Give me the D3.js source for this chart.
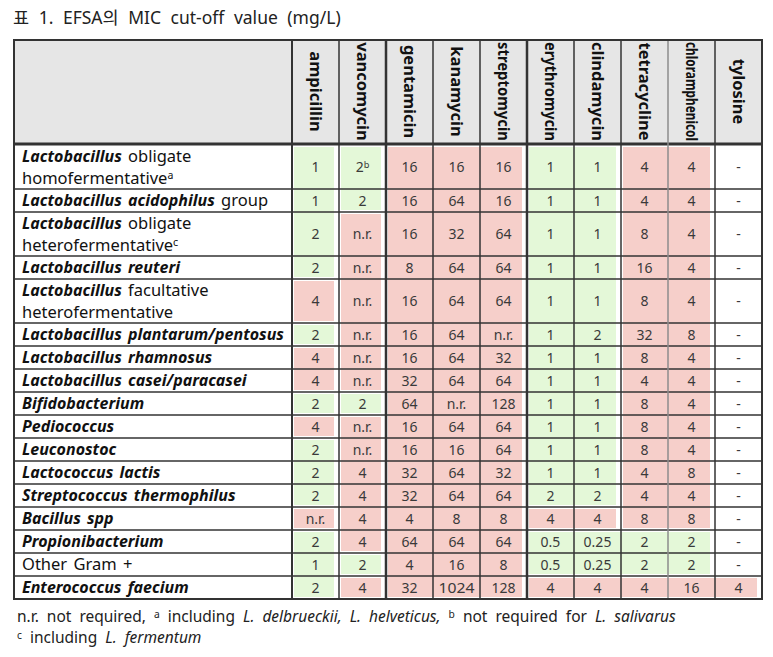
<!doctype html>
<html lang="ko">
<head>
<meta charset="UTF-8" />
<title>EFSA MIC cut-off value</title>
<script src="https://d3js.org/d3.v7.min.js"></script>
<style>
  body { margin: 0; background: #fff; }
  svg text { font-family: "Noto Sans", "DejaVu Sans", "Noto Sans CJK KR", sans-serif; }
</style>
</head>
<body>
<div id="table-container"></div>
<script>
// drug columns
var drugs = ['ampicillin', 'vancomycin', 'gentamicin', 'kanamycin', 'streptomycin',
    'erythromycin', 'clindamycin', 'tetracycline', 'chloramphenicol', 'tylosine'];

// row labels: *..* = bold italic, ^x = superscript, | = line break
var species = [
    '*Lactobacillus* obligate|homofermentative^a',
    '*Lactobacillus acidophilus* group',
    '*Lactobacillus* obligate|heterofermentative^c',
    '*Lactobacillus reuteri*',
    '*Lactobacillus* facultative|heterofermentative',
    '*Lactobacillus plantarum/pentosus*',
    '*Lactobacillus rhamnosus*',
    '*Lactobacillus casei/paracasei*',
    '*Bifidobacterium*',
    '*Pediococcus*',
    '*Leuconostoc*',
    '*Lactococcus lactis*',
    '*Streptococcus thermophilus*',
    '*Bacillus spp*',
    '*Propionibacterium*',
    'Other Gram +',
    '*Enterococcus faecium*'
];

// MIC values per drug, top row to bottom row
var ampicillin      = ['1', '1', '2', '2', '4', '2', '4', '4', '2', '4', '2', '2', '2', 'n.r.', '2', '1', '2'];
var vancomycin      = ['2^b', '2', 'n.r.', 'n.r.', 'n.r.', 'n.r.', 'n.r.', 'n.r.', '2', 'n.r.', 'n.r.', '4', '4', '4', '4', '2', '4'];
var gentamicin      = ['16', '16', '16', '8', '16', '16', '16', '32', '64', '16', '16', '32', '32', '4', '64', '4', '32'];
var kanamycin       = ['16', '64', '32', '64', '64', '64', '64', '64', 'n.r.', '64', '16', '64', '64', '8', '64', '16', '1024'];
var streptomycin    = ['16', '16', '64', '64', '64', 'n.r.', '32', '64', '128', '64', '64', '32', '64', '8', '64', '8', '128'];
var erythromycin    = ['1', '1', '1', '1', '1', '1', '1', '1', '1', '1', '1', '1', '2', '4', '0.5', '0.5', '4'];
var clindamycin     = ['1', '1', '1', '1', '1', '2', '1', '1', '1', '1', '1', '1', '2', '4', '0.25', '0.25', '4'];
var tetracycline    = ['4', '4', '8', '16', '8', '32', '8', '4', '8', '8', '8', '4', '4', '8', '2', '2', '4'];
var chloramphenicol = ['4', '4', '4', '4', '4', '8', '4', '4', '4', '4', '4', '8', '4', '8', '2', '2', '16'];
var tylosine        = ['-', '-', '-', '-', '-', '-', '-', '-', '-', '-', '-', '-', '-', '-', '-', '-', '4'];

var values = [ampicillin, vancomycin, gentamicin, kanamycin, streptomycin,
    erythromycin, clindamycin, tetracycline, chloramphenicol, tylosine];

// highlighted blocks: [first col, last col, first row, last row, kind]
var highlights = [
    [0, 0, 0, 3, 'ok'], [0, 0, 4, 4, 'hi'], [0, 0, 5, 5, 'ok'], [0, 0, 6, 7, 'hi'],
    [0, 0, 8, 8, 'ok'], [0, 0, 9, 9, 'hi'], [0, 0, 10, 12, 'ok'], [0, 0, 13, 13, 'hi'],
    [0, 0, 14, 16, 'ok'],
    [1, 1, 0, 1, 'ok'], [1, 1, 2, 7, 'hi'], [1, 1, 8, 8, 'ok'], [1, 1, 9, 14, 'hi'],
    [1, 1, 15, 15, 'ok'], [1, 1, 16, 16, 'hi'],
    [2, 4, 0, 16, 'hi'],
    [5, 6, 0, 12, 'ok'], [5, 6, 13, 13, 'hi'], [5, 8, 14, 15, 'ok'], [5, 9, 16, 16, 'hi'],
    [7, 8, 0, 13, 'hi']
];

var title = '표 1. EFSA의 MIC cut-off value (mg/L)';
var footnotes = [
    'n.r. not required, ^a including _L. delbrueckii, L. helveticus,_  ^b not required for _L. salivarus_',
    '^c including _L. fermentum_'
];

var width = 773, height = 657;
var left = 14, right = 762, labelRight = 292;
var headTop = 40, headBottom = 145;
var fill = { ok: '#e4f8d8', hi: '#f6cfca' };

var svg = d3.select('#table-container')
    .append('svg')
    .attr('width', width)
    .attr('height', height);

var x = d3.scaleBand()
    .domain(d3.range(drugs.length))
    .range([labelRight, right]);

// row tops from line counts
var rowH = species.map(function (s) { return 23 + 21 * (s.split('|').length - 1); });
var rowTop = [];
rowH.reduce(function (acc, h, i) { rowTop[i] = acc; return acc + h; }, headBottom);
var bottom = rowTop[rowTop.length - 1] + rowH[rowH.length - 1];

// parse inline markup into tspans
function addRich(textSel, str, italicMark, plainSize) {
    var re = italicMark === '_' ? /(_[^_]+_|\^[a-z])/ : /(\*[^*]+\*|\^[a-z])/;
    str.split(re).forEach(function (part) {
        if (!part) return;
        var t = textSel.append('tspan');
        if (part[0] === '^') {
            t.attr('baseline-shift', '45%').attr('font-size', '0.66em').text(part.slice(1));
        } else if (part[0] === '*') {
            t.attr('font-weight', 'bold').attr('font-style', 'italic').text(part.slice(1, -1));
        } else if (part[0] === '_') {
            t.attr('font-style', 'italic').text(part.slice(1, -1));
        } else {
            if (plainSize) t.attr('font-size', plainSize);
            t.text(part);
        }
    });
}

// title
svg.append('text')
    .attr('x', 13)
    .attr('y', 24)
    .attr('font-size', '17.5px')
    .attr('fill', '#222')
    .attr('word-spacing', '5px')
    .text(title);

// header background
svg.append('rect')
    .attr('x', left).attr('y', headTop)
    .attr('width', right - left).attr('height', headBottom - headTop)
    .attr('fill', '#e6e6e6');

// highlight blocks
svg.selectAll('.hl')
    .data(highlights)
    .enter()
    .append('rect')
    .attr('class', 'hl')
    .attr('x', function (d) { return x(d[0]) + 2; })
    .attr('y', function (d) { return rowTop[d[2]] + 2; })
    .attr('width', function (d) { return x(d[1]) + x.bandwidth() - x(d[0]) - 7; })
    .attr('height', function (d) { return rowTop[d[3]] + rowH[d[3]] - rowTop[d[2]] - 4; })
    .attr('fill', function (d) { return fill[d[4]]; });

// header labels, rotated
svg.selectAll('.drug')
    .data(drugs)
    .enter()
    .append('text')
    .attr('class', 'drug')
    .attr('transform', function (d, i) {
        return 'translate(' + (x(i) + x.bandwidth() / 2) + ',' + ((headTop + headBottom) / 2 - 1) + ') rotate(90)';
    })
    .attr('text-anchor', 'middle')
    .attr('dy', '0.35em')
    .attr('font-size', '16.5px')
    .attr('font-weight', 'bold')
    .attr('fill', '#111')
    .each(function (d) {
        if (d === 'chloramphenicol' || d === 'erythromycin' || d === 'streptomycin') {
            d3.select(this).attr('textLength', 99).attr('lengthAdjust', 'spacingAndGlyphs');
        }
    })
    .text(function (d) { return d; });

// row labels
svg.selectAll('.species')
    .data(species)
    .enter()
    .append('g')
    .attr('class', 'species')
    .each(function (s, i) {
        var g = d3.select(this);
        var lines = s.split('|');
        lines.forEach(function (line, k) {
            var t = g.append('text')
                .attr('x', 22)
                .attr('y', rowTop[i] + rowH[i] / 2 + (k - (lines.length - 1) / 2) * 22)
                .attr('dy', '0.36em')
                .attr('font-size', '16px')
                .attr('word-spacing', '2px')
                .attr('fill', '#111');
            addRich(t, line, '*', '16.5px');
        });
    });

// cell values
values.forEach(function (col, c) {
    svg.append('g')
        .selectAll('text')
        .data(col)
        .enter()
        .append('text')
        .attr('x', x(c) + x.bandwidth() / 2)
        .attr('y', function (d, r) { return rowTop[r] + rowH[r] / 2; })
        .attr('dy', '0.36em')
        .attr('text-anchor', 'middle')
        .attr('font-size', '14px')
        .attr('fill', '#3a3a3a')
        .each(function (d) {
            var t = d3.select(this);
            if (d === '1024') t.attr('textLength', 36).attr('lengthAdjust', 'spacingAndGlyphs');
            addRich(t, d, '*');
        });
});

// grid lines
var grid = svg.append('g').attr('stroke', '#333');
rowTop.slice(1).forEach(function (y) {
    grid.append('line').attr('x1', left).attr('x2', right).attr('y1', y).attr('y2', y).attr('stroke-width', 1.5);
});
grid.append('line').attr('x1', left).attr('x2', right).attr('y1', headBottom - 1).attr('y2', headBottom - 1)
    .attr('stroke-width', 3);
d3.range(1, drugs.length).forEach(function (i) {
    var dbl = drugs[i] === 'gentamicin' || drugs[i] === 'erythromycin';
    grid.append('line')
        .attr('x1', x(i)).attr('x2', x(i)).attr('y1', headTop).attr('y2', bottom)
        .attr('stroke', drugs[i] === 'chloramphenicol' ? '#8c8c8c' : '#333')
        .attr('stroke-width', dbl ? 2.5 : 1.5);
});
grid.append('line').attr('x1', labelRight).attr('x2', labelRight).attr('y1', headTop).attr('y2', bottom)
    .attr('stroke-width', 2);
grid.append('rect')
    .attr('x', left).attr('y', headTop)
    .attr('width', right - left).attr('height', bottom - headTop)
    .attr('fill', 'none').attr('stroke-width', 2);

// footnotes
footnotes.forEach(function (f, k) {
    var t = svg.append('text')
        .attr('x', 17)
        .attr('y', bottom + 23 + k * 21)
        .attr('font-size', '15.5px')
        .attr('word-spacing', '4px')
        .attr('fill', '#222');
    addRich(t, f, '_');
});
</script>
</body>
</html>
